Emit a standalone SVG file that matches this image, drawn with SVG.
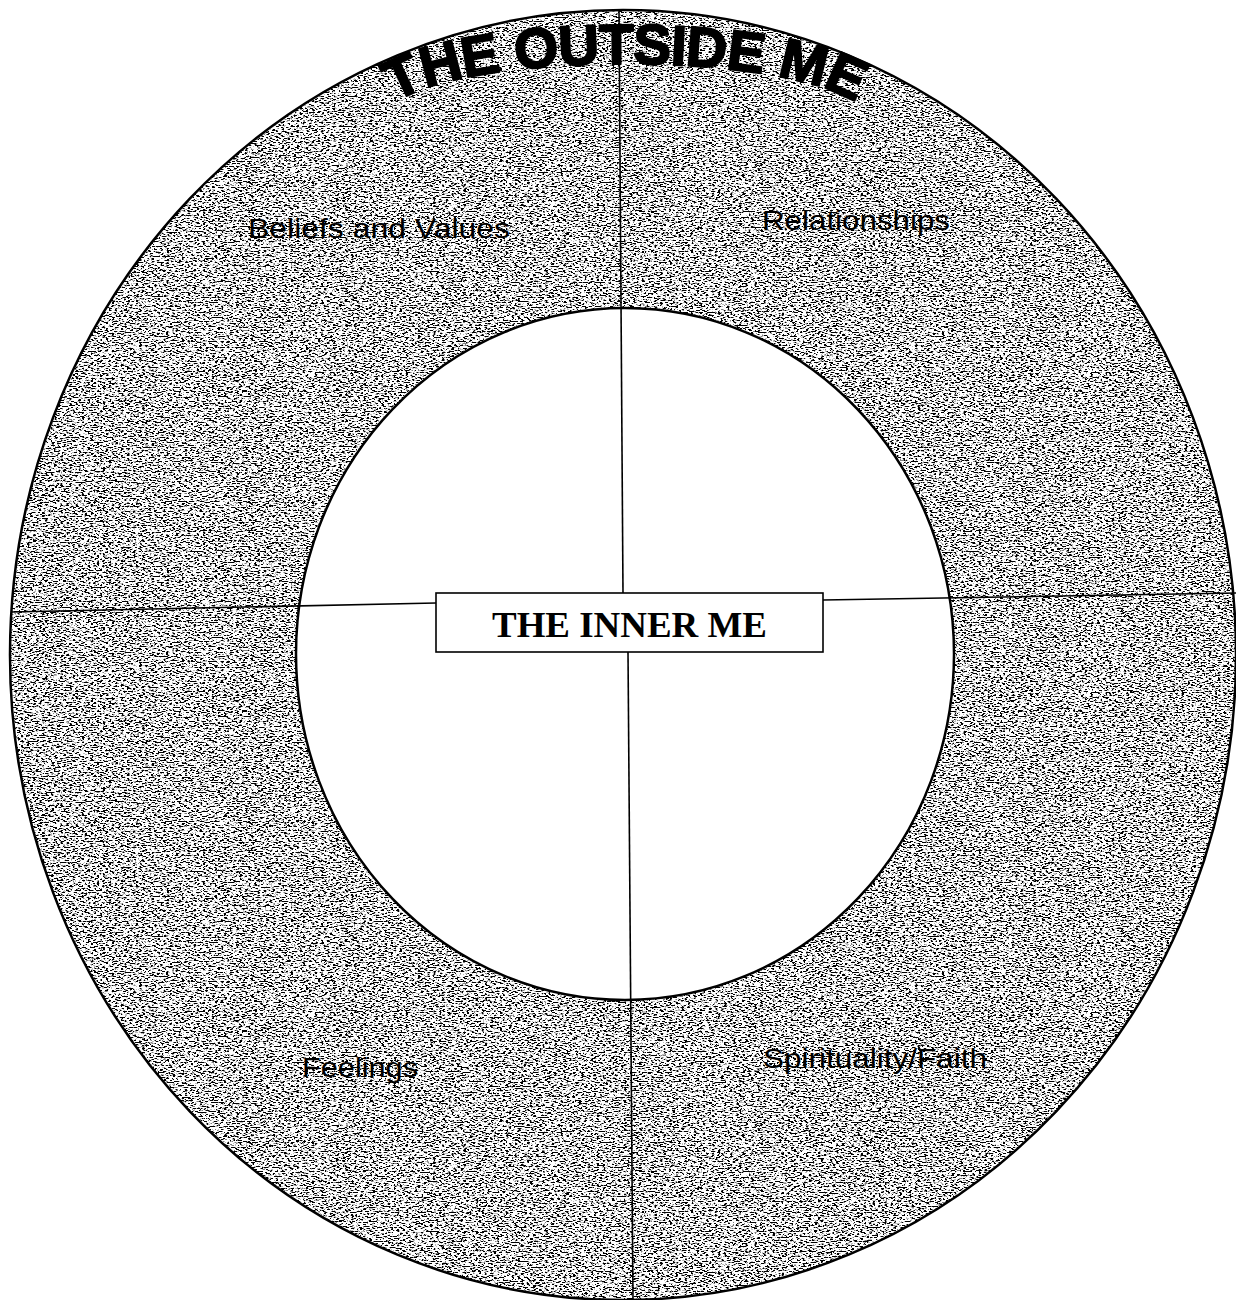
<svg xmlns="http://www.w3.org/2000/svg" width="1236" height="1300" viewBox="0 0 1236 1300">
  <style>
    .edge { fill: none; stroke: #000; stroke-width: 2.5; }
    .conn { stroke: #000; stroke-width: 1.6; fill: none; }
    .lbl { font-family: "Liberation Sans", Arial, sans-serif; font-size: 28px; fill: #000; }
    .inner-title { font-family: "Liberation Serif", "Times New Roman", serif; font-weight: bold; font-size: 35px; fill: #000; }
    .outer-title { font-family: "Liberation Sans", Arial, sans-serif; font-weight: bold; font-size: 57px; fill: #000; stroke: #000; stroke-width: 1.8; stroke-linejoin: round; letter-spacing: -1px; }
  </style>
  <defs>
    <filter id="grain" filterUnits="userSpaceOnUse" x="0" y="0" width="1236" height="1300" color-interpolation-filters="sRGB">
      <feTurbulence type="fractalNoise" baseFrequency="0.33 0.8" numOctaves="2" seed="7" result="noise"/>
      <feColorMatrix in="noise" type="matrix" values="1 0 0 0 0  1 0 0 0 0  1 0 0 0 0  0 0 0 0 1" result="gray"/>
      <feComponentTransfer in="gray" result="stretched">
        <feFuncR type="linear" slope="4" intercept="-1.5"/>
        <feFuncG type="linear" slope="4" intercept="-1.5"/>
        <feFuncB type="linear" slope="4" intercept="-1.5"/>
      </feComponentTransfer>
      <feComponentTransfer in="stretched" result="levels">
        <feFuncR type="discrete" tableValues="0 0.5 0.75 1 1 1 1"/>
        <feFuncG type="discrete" tableValues="0 0.5 0.75 1 1 1 1"/>
        <feFuncB type="discrete" tableValues="0 0.5 0.75 1 1 1 1"/>
      </feComponentTransfer>
      <feComposite in="levels" in2="SourceAlpha" operator="in"/>
    </filter>
    <path id="arch" d="M 385,119 A 240 55 0 0 1 865,119"/>
  </defs>

  <rect width="1236" height="1300" fill="#fff"/>

  <g id="outside-me">
    <path d="M 623,10 A 613 645 0 1 1 623,1300 A 613 645 0 1 1 623,10 Z M 625,308 A 329 346 0 1 0 625,1000 A 329 346 0 1 0 625,308 Z" fill="#000" fill-rule="evenodd" filter="url(#grain)"/>
    <ellipse class="edge" cx="623" cy="655" rx="613" ry="645"/>
  </g>

  <g id="inner-me-circle">
    <ellipse cx="625" cy="654" rx="329" ry="346" fill="#fff" stroke="#000" stroke-width="2.5"/>
  </g>

  <g id="connectors">
    <line class="conn" x1="619" y1="10" x2="623" y2="593"/>
    <line class="conn" x1="628" y1="652" x2="633" y2="1300"/>
    <line class="conn" x1="11" y1="612" x2="436" y2="603"/>
    <line class="conn" x1="823" y1="600" x2="1236" y2="593"/>
  </g>

  <g id="title-outside">
    <text class="outer-title"><textPath href="#arch" startOffset="50%" text-anchor="middle">THE OUTSIDE ME</textPath></text>
  </g>

  <g id="inner-me">
    <rect x="436" y="593" width="387" height="59" fill="#fff" stroke="#000" stroke-width="1.6"/>
    <text class="inner-title" x="492" y="637" textLength="275" lengthAdjust="spacingAndGlyphs">THE INNER ME</text>
  </g>

  <g id="beliefs">
    <text class="lbl" x="248" y="238" textLength="262" lengthAdjust="spacingAndGlyphs">Beliefs and Values</text>
  </g>
  <g id="relationships">
    <text class="lbl" x="762" y="230" textLength="188" lengthAdjust="spacingAndGlyphs">Relationships</text>
  </g>
  <g id="feelings">
    <text class="lbl" x="302" y="1077" textLength="116" lengthAdjust="spacingAndGlyphs">Feelings</text>
  </g>
  <g id="spirituality">
    <text class="lbl" x="763" y="1068" textLength="224" lengthAdjust="spacingAndGlyphs">Spirituality/Faith</text>
  </g>
</svg>
